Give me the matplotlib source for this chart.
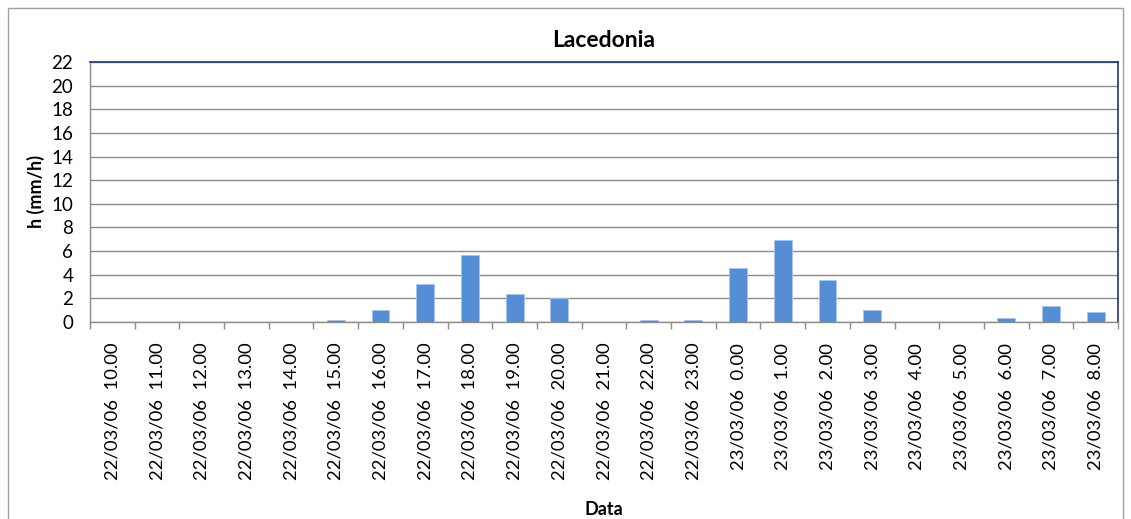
import matplotlib
matplotlib.use("Agg")
import matplotlib.pyplot as plt
from matplotlib.patches import Rectangle

dates = ["22/03/06"] * 14 + ["23/03/06"] * 9
hours = ["10.00", "11.00", "12.00", "13.00", "14.00", "15.00", "16.00", "17.00",
         "18.00", "19.00", "20.00", "21.00", "22.00", "23.00",
         "0.00", "1.00", "2.00", "3.00", "4.00", "5.00", "6.00", "7.00", "8.00"]
values = [0, 0, 0, 0, 0, 0.2, 1.0, 3.2, 5.65, 2.4, 2.0, 0, 0.17, 0.17,
          4.6, 6.9, 3.55, 1.0, 0, 0, 0.3, 1.35, 0.85]
yticks = list(range(0, 23, 2))

plt.rcParams['font.family'] = ['Lato', 'DejaVu Sans']

fig = plt.figure(figsize=(11.31, 5.19), dpi=100)
ax = fig.add_axes([90 / 1131, 1 - 322 / 519, (1118 - 90) / 1131, (322 - 62) / 519])

n = len(values)
x = list(range(n))
labels = [f"{d}  {h}" for d, h in zip(dates, hours)]
ax.bar(x, values, width=0.4, color="#558ed5", edgecolor="#a9c4ea", linewidth=0.6, zorder=3)

ax.set_xlim(-0.5, n - 0.5)
ax.set_ylim(0, 22)
ax.set_yticks(yticks)
ax.set_yticklabels([str(v) for v in yticks], fontsize=13.5)
ax.yaxis.grid(True, color="#8c8c8c", linewidth=1.0, zorder=0)
ax.set_axisbelow(True)
ax.tick_params(axis='y', length=0, pad=12)

ax.set_xticks(x)
ax.set_xticklabels(labels, rotation=90, fontsize=13.3)
ax.tick_params(axis='x', length=0, pad=15)
ax.set_xticks([i - 0.5 for i in range(n + 1)], minor=True)
ax.tick_params(axis='x', which='minor', length=5, color="#8c8c8c", width=1)

for side in ["left", "bottom"]:
    ax.spines[side].set_color("#8c8c8c")
    ax.spines[side].set_linewidth(1.0)
for side in ["top", "right"]:
    ax.spines[side].set_color("#1f3864")
    ax.spines[side].set_linewidth(1.2)

ax.set_title("Lacedonia", fontsize=16.5, fontweight="bold", pad=11)
ax.set_ylabel("h (mm/h)", fontsize=13, fontweight="bold", labelpad=5)
ax.set_xlabel("Data", fontsize=13, fontweight="bold", labelpad=15)

fig.patches.append(Rectangle((8 / 1131, -0.01), (1123 - 8) / 1131, 1 - 8 / 519 + 0.01,
                             transform=fig.transFigure, fill=False,
                             edgecolor="#a0a0a0", linewidth=1.0))

fig.savefig("out.png", dpi=100)
